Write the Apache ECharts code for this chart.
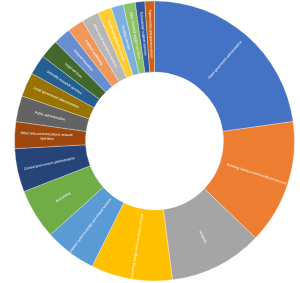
<!DOCTYPE html>
<html>
<head>
<meta charset="utf-8">
<script src="https://cdn.jsdelivr.net/npm/echarts@6/dist/echarts.min.js"></script>
<style>html,body{margin:0;padding:0;background:#fff}#c{width:300px;height:283px}</style>
</head>
<body>
<div id="c"></div>
<script>
var categories = [
  "Other government administration",
  "Banking, finance and investment services",
  "Hospitals",
  "Engineering design and consultancy services",
  "Computer systems design and related services",
  "Accounting",
  "Central government administration",
  "Other telecommunications network operation",
  "Public administration",
  "Local government administration",
  "Scientific research services",
  "Legal services",
  "General insurance",
  "Software publishing",
  "Other social assistance services",
  "Health and general insurance",
  "Housing services",
  "Other financial support services",
  "Educational support services",
  "Supermarket and grocery stores"
];
var values = [228, 144, 108, 94, 60, 58, 50, 31, 30, 28, 23, 22, 20, 19, 20, 16, 14, 14, 11, 11];
var colors = ["#4472C4","#ED7D31","#A5A5A5","#FFC000","#5B9BD5","#70AD47","#264478","#9E480E","#636363","#997300",
              "#255E91","#43682B","#698ED0","#F1975A","#B7B7B7","#FFCD33","#7CAFDD","#8CC168","#335AA1","#D26012"];

var data = categories.map(function(n, i){
  var item = {name: n, value: values[i], itemStyle: {color: colors[i]}};
  if (n.length > 40 && i === 7) item.label = {width: 56, overflow: 'break'};
  return item;
});

var chart = echarts.init(document.getElementById('c'), null, {renderer: 'canvas'});
chart.setOption({
  animation: false,
  series: [{
    type: 'pie',
    center: [154.5, 141],
    radius: [69, 140],
    startAngle: 90,
    clockwise: true,
    avoidLabelOverlap: false,
    itemStyle: {borderColor: 'rgba(255,255,255,0.6)', borderWidth: 0.5},
    label: {
      show: true,
      position: 'inside',
      rotate: 'radial',
      color: '#ffffff',
      fontSize: 3.4,
      fontFamily: 'Liberation Sans',
      lineHeight: 4.5,
      formatter: '{b}'
    },
    labelLine: {show: false},
    emphasis: {disabled: true},
    data: data
  }]
});
</script>
</body>
</html>
